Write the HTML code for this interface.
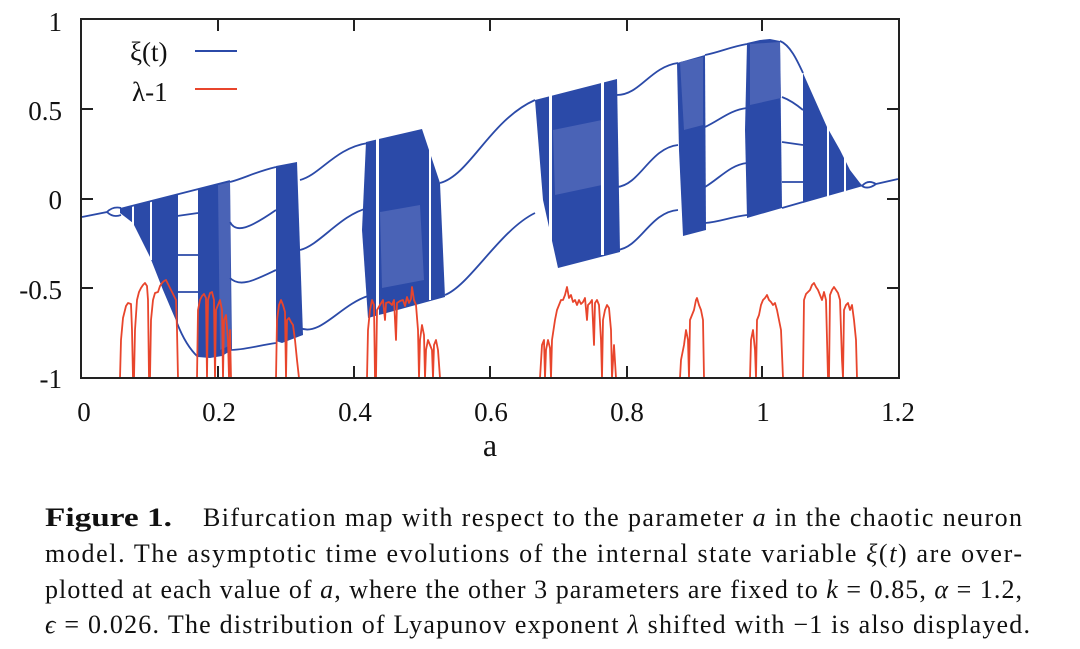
<!DOCTYPE html>
<html><head><meta charset="utf-8"><style>
html,body{margin:0;padding:0;background:#fff;}
svg{display:block;}
</style></head><body>
<svg width="1080" height="649" viewBox="0 0 1080 649" xmlns="http://www.w3.org/2000/svg">
<rect width="1080" height="649" fill="#fff"/>
<g fill="#2b4aa8" stroke="none">
<polygon points="120,209 230,181 232,350 222,356 210,358 198,357 187,345 177,323 163,290 150,257 133,223 120,213"/>
<polygon points="276,166 297,162 303,335 282,343 276,341"/>
<polygon points="366,142 422,129 440,183 445,297 368,318 362,230"/>
<polygon points="535,100 617,79 620,252 558,268 543,200"/>
<polygon points="677,63 705,55 706,230 683,236 679,150"/>
<polygon points="747,43 760,40 770,39 780,41 782,208 747,218 745,130"/>
<polygon points="803,73 815,100 827,127 840,150 850,170 860,183 863,186 803,203"/>
</g>
<g fill="#4a63b6">
<polygon points="380,212 420,205 424,280 382,288"/>
<polygon points="553,130 602,120 602,185 555,195"/>
<polygon points="680,62 703,57 703,125 684,130"/>
<polygon points="750,44 780,42 781,98 750,105"/>
<polygon points="218,185 230,182 231,345 220,350"/>
</g>
<g fill="#fff">
<rect x="178" y="186" width="20" height="170"/>
<rect x="132" y="190" width="2" height="50"/>
<rect x="150" y="190" width="2" height="70"/>
<rect x="376" y="135" width="3" height="185"/>
<rect x="429" y="140" width="2" height="160"/>
<rect x="549" y="90" width="3" height="180"/>
<rect x="601" y="80" width="3" height="175"/>
<rect x="782" y="30" width="21" height="186"/>
<rect x="827" y="110" width="2" height="95"/>
<rect x="844" y="140" width="2" height="60"/>
<polygon points="782,41 790,45 797,60 803,73 803,30 782,30"/>
</g>
<g fill="none" stroke="#2b4aa8" stroke-width="1.8">
<path d="M82,217 L107,212 Q113,206 121,208 M107,212 Q113,218 121,215"/>
<path d="M120,209 L230,181 M177,216 L198,213 M177,255 L198,255 M177,292 L198,292 M177,323 Q186,346 198,357"/>
<path d="M230,182 C245,178 255,172 276,167"/>
<path d="M230,222 C236,234 250,228 276,210"/>
<path d="M230,278 C240,288 255,280 276,270"/>
<path d="M230,350 C245,350 260,345 276,343"/>
<path d="M300,180 C320,175 335,148 368,143"/>
<path d="M300,250 C320,245 340,215 368,208"/>
<path d="M300,328 C320,337 340,305 368,296"/>
<path d="M440,183 C470,175 490,120 535,100"/>
<path d="M445,295 C470,285 500,230 535,213"/>
<path d="M617,95 C640,95 650,67 678,63"/>
<path d="M617,187 C640,185 650,148 678,145"/>
<path d="M617,250 C640,248 650,212 678,210"/>
<path d="M705,55 C720,52 730,47 747,44"/>
<path d="M705,127 C720,120 730,110 747,108"/>
<path d="M705,187 C720,178 730,165 747,163"/>
<path d="M705,223 C720,222 730,217 747,215"/>
<path d="M780,41 C790,45 797,60 803,73"/>
<path d="M782,97 C790,100 797,105 803,110 M782,142 L803,145 M782,182 L803,182 M782,208 L803,202"/>
<path d="M862,186 Q868,179 876,184 Q868,190 862,186 M876,184 L898,179"/>
</g>
<g fill="none" stroke="#e8452c" stroke-width="1.8" stroke-linejoin="round">
<polyline points="120,378 121,340 123,318 126,306 128,303 131,304 132,330 133,378 134,378 135,330 137,300 139,292 141,288 143,285 145,283 147,286 148,300 149,378 150,378 151,320 153,300 155,293 158,292 160,286 162,283 164,281 166,280 168,284 170,288 172,292 174,296 176,300 177,330 178,378"/>
<polyline points="197,378 198,310 200,300 202,296 204,294 206,298 207,378 208,300 210,293 212,292 214,300 215,378 216,310 218,305 220,300 222,310 223,378 224,320 226,315 228,340 229,378 230,330 231,378"/>
<polyline points="276,378 277,320 279,305 281,300 283,305 285,312 286,378 287,320 289,318 291,322 293,325 295,340 297,360 299,378"/>
<polyline points="367,378 368,330 370,310 372,300 374,305 375,378 376,378 377,310 380,305 383,300 385,320 386,303 389,302 392,305 394,300 396,340 397,303 400,301 403,300 405,306 407,297 409,303 411,299 412,287 414,300 416,305 418,330 419,378 420,340 422,325 424,335 425,378 426,350 428,340 430,345 432,350 433,378 434,345 436,340 438,350 440,378"/>
<polyline points="540,378 542,345 544,340 545,378 546,350 548,340 550,348 551,378 552,340 555,320 557,310 559,305 561,300 563,300 565,295 567,287 569,298 571,295 573,302 575,300 577,305 579,300 581,304 583,302 585,298 587,320 588,305 590,303 592,300 594,345 595,303 597,300 599,305 601,340 602,378 603,320 605,310 607,305 609,308 611,330 612,378 614,345 616,378"/>
<polyline points="680,378 681,360 684,345 686,330 688,340 689,378 690,320 692,315 694,310 696,300 697,298 699,305 701,310 703,320 704,378"/>
<polyline points="750,378 751,340 753,330 755,350 756,378 757,320 759,315 761,305 763,300 765,298 767,295 769,300 771,302 773,305 775,303 777,310 779,320 781,330 783,378"/>
<polyline points="803,378 804,300 806,294 808,292 810,290 812,285 814,283 816,287 818,290 820,295 822,300 824,292 826,300 828,378 829,378 830,295 832,290 834,287 836,290 838,293 840,300 842,360 843,378 844,310 846,305 848,303 850,310 852,305 854,320 856,340 857,378"/>
</g>
<g stroke="#222" stroke-width="2" fill="none">
<rect x="81" y="19" width="818" height="359"/>
<path d="M81,109 h12 M81,199 h12 M81,288 h12 M899,109 h-12 M899,199 h-12 M899,288 h-12"/>
<path d="M218,19 v12 M354,19 v12 M490,19 v12 M627,19 v12 M762,19 v12 M218,378 v-12 M354,378 v-12 M490,378 v-12 M627,378 v-12 M762,378 v-12"/>
</g>
<g font-family="'Liberation Serif', serif" font-size="27" fill="#111">
<text x="62" y="31" text-anchor="end">1</text>
<text x="62" y="120" text-anchor="end">0.5</text>
<text x="62" y="209" text-anchor="end">0</text>
<text x="62" y="299" text-anchor="end">-0.5</text>
<text x="62" y="388" text-anchor="end">-1</text>
<text x="84" y="421" text-anchor="middle">0</text>
<text x="219" y="421" text-anchor="middle">0.2</text>
<text x="355" y="421" text-anchor="middle">0.4</text>
<text x="491" y="421" text-anchor="middle">0.6</text>
<text x="627" y="421" text-anchor="middle">0.8</text>
<text x="763" y="421" text-anchor="middle">1</text>
<text x="898" y="421" text-anchor="middle">1.2</text>
<text x="490" y="456" text-anchor="middle" font-size="32">a</text>
<text x="130" y="61">ξ(t)</text>
<text x="132" y="101">λ-1</text>
</g>
<line x1="195" y1="51" x2="237" y2="51" stroke="#2b4aa8" stroke-width="2"/>
<line x1="195" y1="89" x2="237" y2="89" stroke="#e8452c" stroke-width="2"/>
<g font-family="'Liberation Serif', serif" font-size="26" fill="#111">
<text x="45" y="526" font-weight="bold" textLength="127" lengthAdjust="spacingAndGlyphs">Figure 1.</text>
<text x="203" y="526" textLength="819" lengthAdjust="spacing">Bifurcation map with respect to the parameter <tspan font-style="italic">a</tspan> in the chaotic neuron</text>
<text x="45" y="562" textLength="977" lengthAdjust="spacing">model.  The asymptotic time evolutions of the internal state variable <tspan font-style="italic">ξ</tspan>(<tspan font-style="italic">t</tspan>) are over-</text>
<text x="45" y="598" textLength="977" lengthAdjust="spacing">plotted at each value of <tspan font-style="italic">a</tspan>, where the other 3 parameters are fixed to <tspan font-style="italic">k</tspan> = 0.85, <tspan font-style="italic">α</tspan> = 1.2,</text>
<text x="45" y="633" textLength="985" lengthAdjust="spacing"><tspan font-style="italic">ϵ</tspan> = 0.026. The distribution of Lyapunov exponent <tspan font-style="italic">λ</tspan> shifted with −1 is also displayed.</text>
</g>
</svg>
</body></html>
